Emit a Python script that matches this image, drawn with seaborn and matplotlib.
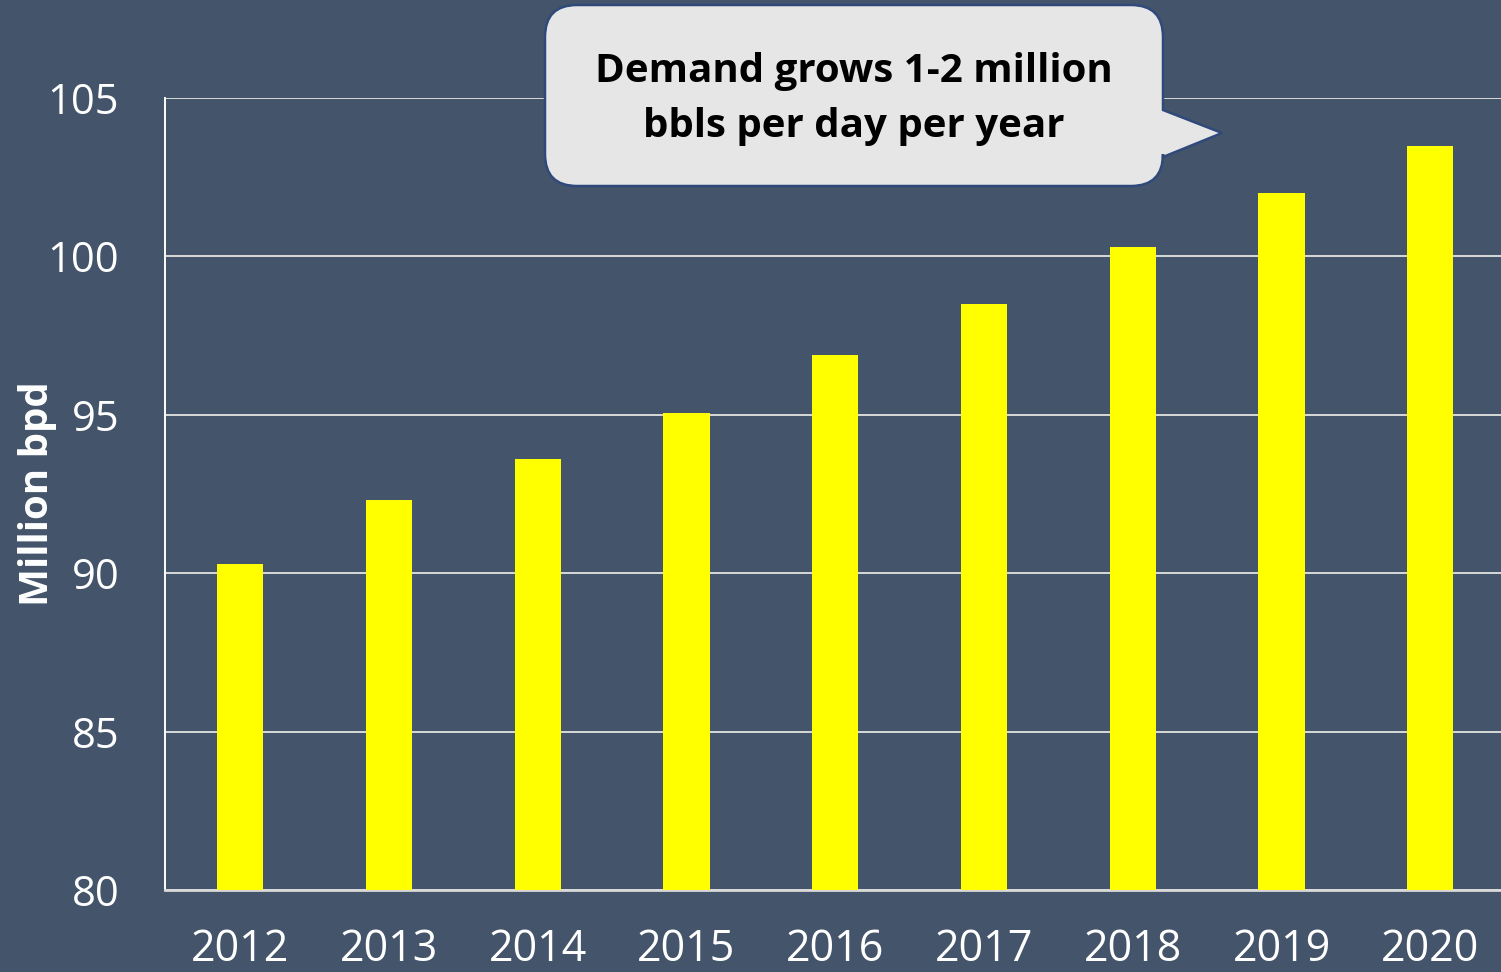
import seaborn as sns
import matplotlib.pyplot as plt
import pandas as pd
from matplotlib.path import Path
from matplotlib.patches import PathPatch
from matplotlib.transforms import Affine2D

years = ['2012', '2013', '2014', '2015', '2016', '2017', '2018', '2019', '2020']
demand = [90.3, 92.3, 93.6, 95.05, 96.9, 98.5, 100.3, 102.0, 103.5]
yticks = [80, 85, 90, 95, 100, 105]
callout = 'Demand grows 1-2 million\nbbls per day per year'

bg = '#44546A'
W, H = 1501, 972

sns.set_style('white', {'axes.facecolor': bg, 'figure.facecolor': bg})
plt.rcParams['font.family'] = ['Open Sans', 'DejaVu Sans']

df = pd.DataFrame({'Year': years, 'Demand': demand})

fig = plt.figure(figsize=(W / 100, H / 100), dpi=100)
ax = fig.add_axes([165 / W, (H - 890) / H, (W - 165) / W, (890 - 98) / H])

sns.barplot(data=df, x='Year', y='Demand', color='#FFFF00', width=0.31,
            saturation=1, edgecolor='none', ax=ax, zorder=3)

ax.set_ylim(80, 105)
ax.set_xlim(-0.505, 8.475)
ax.set_yticks(yticks)
ax.grid(axis='y', color='#D9D9D9', lw=1.4, zorder=0)
ax.set_axisbelow(True)

for s in ['top', 'right']:
    ax.spines[s].set_visible(False)
ax.spines['left'].set_color('white')
ax.spines['left'].set_linewidth(1.4)
ax.spines['bottom'].set_color('#D9D9D9')
ax.spines['bottom'].set_linewidth(2)

ax.tick_params(axis='y', length=0, pad=33, labelsize=30, labelcolor='white')
ax.tick_params(axis='x', length=0, pad=27, labelsize=31, labelcolor='white')
ax.set_xlabel('')
ax.set_ylabel('Million bpd', color='white', fontsize=29, fontweight='bold')
ax.yaxis.set_label_coords(-0.081, 0.5)

# callout bubble, drawn in image pixel coordinates
px = Affine2D().scale(1 / W, 1 / H) + fig.transFigure
x0, x1, yt, yb, r = 545, 1163, 5, 186, 32
pt_top, pt_bot, tip = 110, 157, (1222, 133)
pts = [
    ((x0 + r, yt), Path.MOVETO),
    ((x1 - r, yt), Path.LINETO),
    ((x1, yt), Path.CURVE3), ((x1, yt + r), Path.CURVE3),
    ((x1, pt_top), Path.LINETO),
    (tip, Path.LINETO),
    ((x1, pt_bot), Path.LINETO),
    ((x1, yb - r), Path.LINETO),
    ((x1, yb), Path.CURVE3), ((x1 - r, yb), Path.CURVE3),
    ((x0 + r, yb), Path.LINETO),
    ((x0, yb), Path.CURVE3), ((x0, yb - r), Path.CURVE3),
    ((x0, yt + r), Path.LINETO),
    ((x0, yt), Path.CURVE3), ((x0 + r, yt), Path.CURVE3),
    ((x0 + r, yt), Path.CLOSEPOLY),
]
verts = [(x, H - y) for (x, y), _ in pts]
codes = [c for _, c in pts]
bubble = PathPatch(Path(verts, codes), facecolor='#E7E6E6', edgecolor='#2F4A7A',
                   lw=1.8, transform=px, zorder=10)
fig.patches.append(bubble)
fig.text(854 / W, 1 - 99 / H, callout, ha='center', va='center', fontsize=29,
         fontweight='bold', color='black', linespacing=1.56, zorder=11)

fig.savefig('out.png', dpi=100, facecolor=bg)
